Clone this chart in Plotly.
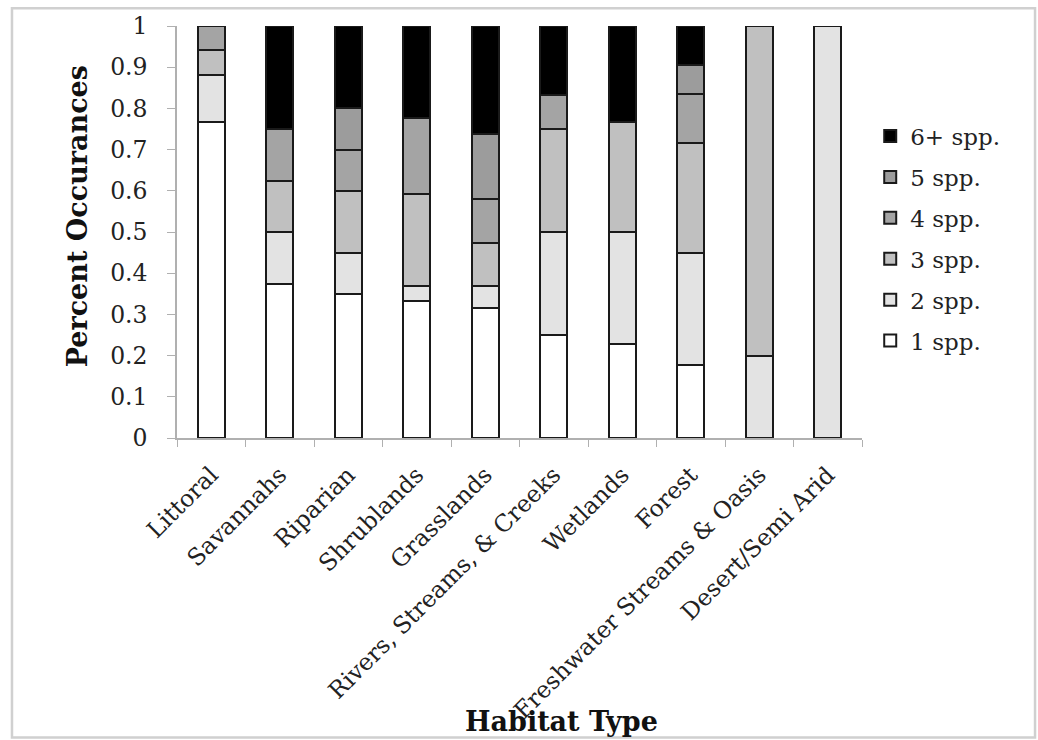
import plotly.graph_objects as go

categories = ["Littoral", "Savannahs", "Riparian", "Shrublands", "Grasslands",
              "Rivers, Streams, & Creeks", "Wetlands", "Forest",
              "Freshwater Streams & Oasis", "Desert/Semi Arid"]
series_names = ["1 spp.", "2 spp.", "3 spp.", "4 spp.", "5 spp.", "6+ spp."]
spp1 = [0.767, 0.375, 0.35, 0.333, 0.316, 0.25, 0.229, 0.178, None, None]
spp2 = [0.113, 0.125, 0.10, 0.037, 0.053, 0.25, 0.271, 0.271, 0.2, 1.0]
spp3 = [0.061, 0.125, 0.15, 0.222, 0.105, 0.25, 0.266, 0.267, 0.8, None]
spp4 = [0.059, 0.125, 0.10, 0.185, 0.105, 0.083, None, 0.118, None, None]
spp5 = [None, None, 0.10, None, 0.158, None, None, 0.071, None, None]
spp6 = [None, 0.25, 0.20, 0.222, 0.263, 0.167, 0.234, 0.095, None, None]
series_values = [spp1, spp2, spp3, spp4, spp5, spp6]
colors = ["#ffffff", "#e3e3e3", "#c0c0c0", "#a4a4a4", "#9c9c9c", "#000000"]
y_ticks = [0, 0.1, 0.2, 0.3, 0.4, 0.5, 0.6, 0.7, 0.8, 0.9, 1]

FONT = "DejaVu Serif"

fig = go.Figure()
n = len(series_names)
for i, (name, vals, col) in enumerate(zip(series_names, series_values, colors)):
    fig.add_trace(go.Bar(
        x=categories, y=vals, name=name, legendgroup=name,
        legendrank=n - i,
        marker=dict(color=col, line=dict(color="#1a1a1a", width=2)),
    ))

fig.update_layout(
    barmode="stack",
    bargap=0.6,
    width=1038, height=740,
    margin=dict(l=177, r=176, t=26, b=302),
    paper_bgcolor="white", plot_bgcolor="white",
    font=dict(family=FONT, size=22, color="#222"),
    showlegend=True,
    legend=dict(x=1.012, y=0.785, xanchor="left", yanchor="top",
                traceorder="grouped", tracegroupgap=8,
                font=dict(family=FONT, size=23, color="#222"),
                bgcolor="rgba(0,0,0,0)"),
    xaxis=dict(
        tickangle=-45, showline=True, linecolor="#b0b0b0", linewidth=1.5,
        ticks="outside", tickson="boundaries", ticklen=7, tickcolor="#b0b0b0",
        showgrid=False, tickfont=dict(family=FONT, size=23.5, color="#222"),
        ticklabelstandoff=12,
    ),
    yaxis=dict(
        range=[0, 1], tickvals=y_ticks, showline=True, linecolor="#b0b0b0",
        linewidth=1.5, ticks="outside", ticklen=8, tickcolor="#b0b0b0",
        showgrid=False, zeroline=False,
        tickfont=dict(family=FONT, size=23.5, color="#222"),
        ticklabelstandoff=15,
    ),
    annotations=[
        dict(text="<b>Percent Occurances</b>", xref="paper", yref="paper",
             x=-0.146, y=0.538, xanchor="center", yanchor="middle",
             textangle=-90, showarrow=False,
             font=dict(family=FONT, size=27, color="#111")),
        dict(text="<b>Habitat Type</b>", xref="paper", yref="paper",
             x=0.562, y=-0.689, xanchor="center", yanchor="middle",
             showarrow=False,
             font=dict(family=FONT, size=27, color="#111")),
    ],
    shapes=[
        dict(type="rect", xref="paper", yref="paper",
             x0=-0.2409, x1=1.2526, y0=-0.727, y1=1.043,
             line=dict(color="#d0d0d0", width=2.5), fillcolor="rgba(0,0,0,0)",
             layer="below"),
    ],
)

fig.write_html("out.html",
               config={"displayModeBar": False},
               post_script="document.body.style.margin='0';document.body.style.overflow='hidden';")
